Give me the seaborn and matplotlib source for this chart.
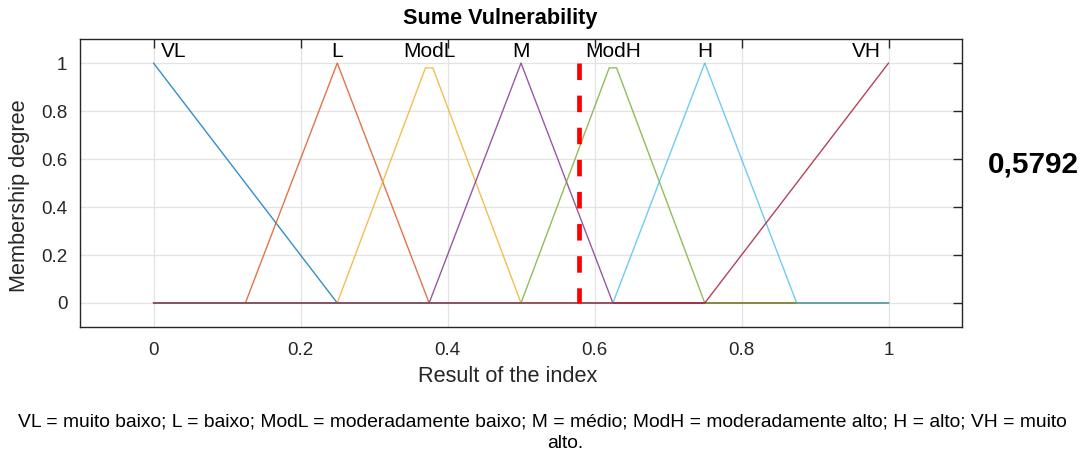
import numpy as np
import pandas as pd
import matplotlib
matplotlib.use("Agg")
import matplotlib.pyplot as plt
import seaborn as sns

sns.set_theme(style="white")
plt.rcParams["font.family"] = ["Liberation Sans", "DejaVu Sans"]

# membership functions (breakpoints)
mf_names = ["VL", "L", "ModL", "M", "ModH", "H", "VH"]
mf_x = [
    [0, 0.25, 1],
    [0, 0.125, 0.25, 0.375, 1],
    [0, 0.25, 0.37, 0.38, 0.5, 1],
    [0, 0.375, 0.5, 0.625, 1],
    [0, 0.5, 0.62, 0.63, 0.75, 1],
    [0, 0.625, 0.75, 0.875, 1],
    [0, 0.75, 1],
]
mf_y = [
    [1, 0, 0],
    [0, 0, 1, 0, 0],
    [0, 0, 0.98, 0.98, 0, 0],
    [0, 0, 1, 0, 0],
    [0, 0, 0.98, 0.98, 0, 0],
    [0, 0, 1, 0, 0],
    [0, 0, 1],
]
label_x = [0.01, 0.25, 0.375, 0.5, 0.625, 0.75, 0.99]
result = 0.5792
result_text = "0,5792"

x_ticks = [0, 0.2, 0.4, 0.6, 0.8, 1]
x_ticklabels = ["0", "0.2", "0.4", "0.6", "0.8", "1"]
y_ticks = [0, 0.2, 0.4, 0.6, 0.8, 1]
y_ticklabels = ["0", "0.2", "0.4", "0.6", "0.8", "1"]

colors = ["#0072BD", "#D95319", "#EDB120", "#7E2F8E", "#77AC30", "#4DBEEE", "#A2142F"]

caption1 = ("VL = muito baixo; L = baixo; ModL = moderadamente baixo; M = médio; "
            "ModH = moderadamente alto; H = alto; VH = muito")
caption2 = "alto."

rows = []
for name, xs, ys in zip(mf_names, mf_x, mf_y):
    for xv, yv in zip(xs, ys):
        rows.append({"mf": name, "x": xv, "mu": yv})
df = pd.DataFrame(rows)

fig = plt.figure(figsize=(10.84, 4.57), dpi=100)
ax = fig.add_axes([0.0738, 0.2845, 0.8137, 0.630])

sns.lineplot(data=df, x="x", y="mu", hue="mf", hue_order=mf_names,
             palette=colors, estimator=None, sort=False, legend=False,
             linewidth=1.0, alpha=0.8, ax=ax)

# defuzzified result, drawn top-down so the dash pattern starts at 1
ax.plot([result, result], [1, 0], color="#ff0000", linewidth=3.4,
        linestyle=(0, (3.5, 3.3)), dash_capstyle="butt")

for name, lx in zip(mf_names, label_x):
    ha = "left" if name == "VL" else ("right" if name == "VH" else "center")
    ax.text(lx, 1.05, name, ha=ha, va="center", fontsize=15, color="black")

ax.set_xlim(-0.1, 1.1)
ax.set_ylim(-0.1, 1.1)
ax.set_xticks(x_ticks)
ax.set_xticklabels(x_ticklabels)
ax.set_yticks(y_ticks)
ax.set_yticklabels(y_ticklabels)
ax.grid(True, color="#e3e3e3", linewidth=0.9)
ax.set_axisbelow(True)
ax.tick_params(direction="in", length=6.5, width=1, color="#262626",
               top=True, right=True, labelsize=13.5, labelcolor="#262626")
ax.tick_params(axis="x", pad=11)
ax.tick_params(axis="y", pad=9)
for s in ax.spines.values():
    s.set_color("#262626")
    s.set_linewidth(1)

ax.set_xlabel("Result of the index", fontsize=15.7, color="#262626")
ax.set_ylabel("Membership degree", fontsize=15.7, color="#262626")
ax.xaxis.set_label_coords(0.485, -0.135)
ax.yaxis.set_label_coords(-0.057, 0.455)

fig.text(500 / 1084, 0.9606, "Sume Vulnerability", ha="center", va="center",
         fontsize=15.6, fontweight="bold", color="black")
fig.text(1033 / 1084, 0.639, result_text, ha="center", va="center",
         fontsize=21.4, fontweight="bold", color="black")
# caption runs past the right edge, as in the source figure
fig.text(18 / 1084, 1 - 422 / 457, caption1, ha="left", va="center",
         fontsize=13.9, color="black")
fig.text(565 / 1084, 1 - 444 / 457, caption2, ha="center", va="center",
         fontsize=13.9, color="black")

fig.savefig("out.png", dpi=100)
